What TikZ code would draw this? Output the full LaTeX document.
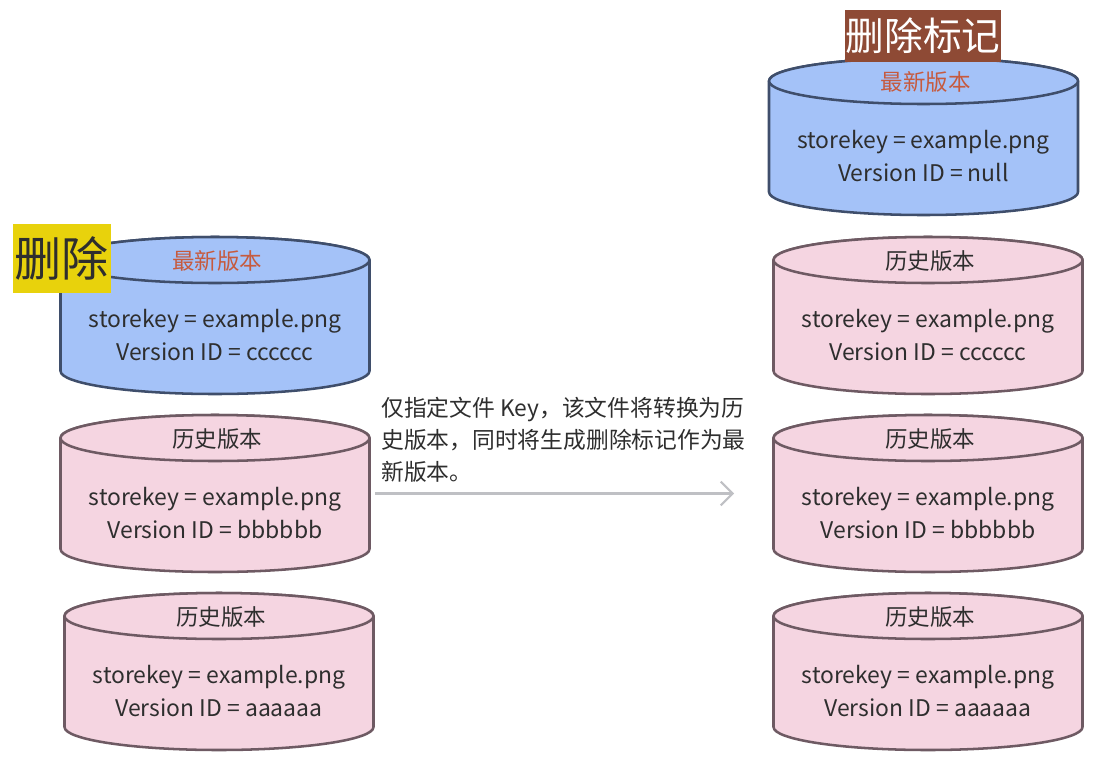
\documentclass[tikz,border=0pt]{standalone}
\usepackage{fontspec}
\setmainfont{Noto Sans CJK SC}
\usetikzlibrary{arrows.meta}

\definecolor{drumblue}{HTML}{A4C2F8}
\definecolor{edgeblue}{HTML}{3F4E6B}
\definecolor{drumpink}{HTML}{F5D5E1}
\definecolor{edgepink}{HTML}{6E5A63}
\definecolor{tagred}{HTML}{C65A3E}
\definecolor{inkgray}{HTML}{2E2E2E}
\definecolor{markbrown}{HTML}{8E4A35}
\definecolor{markyellow}{HTML}{E8D20C}
\definecolor{flowgray}{HTML}{BFC0C4}

% drum: name, centre x, top ellipse centre y (downwards), style, tag style, tag, version id
\newcommand{\drum}[7]{%
  \path[#4] (#2-154.5,-#3) -- (#2-154.5,-#3-111)
    arc[start angle=180,end angle=360,x radius=154.5,y radius=23]
    -- (#2+154.5,-#3)
    arc[start angle=0,end angle=180,x radius=154.5,y radius=23] -- cycle;
  \path[#4] (#2,-#3) ellipse[x radius=154.5,y radius=23];
  \node[drumbody] (#1) at (#2,-#3-55.5) {};
  \node[#5] (#1tag) at (#2+2,-#3-1) {#6};
  \node[idtext] (#1txt) at (#2,-#3-75) {storekey = example.png\\Version ID = #7};
}

\begin{document}
\begin{tikzpicture}[x=0.025cm,y=0.025cm,line join=round,
    drumbody/.style={minimum width=7.725cm,minimum height=2.775cm,inner sep=0},
    newest/.style={fill=drumblue,draw=edgeblue,line width=1.8pt},
    older/.style={fill=drumpink,draw=edgepink,line width=1.8pt},
    newtag/.style={text=tagred,inner sep=0,font=\fontsize{16}{20}\selectfont},
    oldtag/.style={text=inkgray,inner sep=0,font=\fontsize{16}{20}\selectfont},
    idtext/.style={text=inkgray,inner sep=0,align=center,font=\fontsize{16.3}{22.9}\selectfont},
    flow/.style={flowgray,line width=1.5pt,-{Straight Barb[length=8.5pt,width=17pt,line width=1.5pt]}}]
  \useasboundingbox (0,0) rectangle (1100,-758);

  % before
  \drum{curL}{215}{260}{newest}{newtag}{最新版本}{cccccc}
  \drum{histBL}{215}{438}{older}{oldtag}{历史版本}{bbbbbb}
  \drum{histAL}{219}{616}{older}{oldtag}{历史版本}{aaaaaa}
  \node[fill=markyellow,text=inkgray,minimum width=2.45cm,minimum height=1.725cm,inner sep=0,
    font=\fontsize{33.5}{36}\selectfont] (delL) at (62,-258.5) {删除};

  % after
  \drum{markR}{923.5}{81}{newest}{newtag}{最新版本}{null}
  \drum{histCR}{928}{260}{older}{oldtag}{历史版本}{cccccc}
  \drum{histBR}{928}{438}{older}{oldtag}{历史版本}{bbbbbb}
  \drum{histAR}{928}{616}{older}{oldtag}{历史版本}{aaaaaa}
  \node[fill=markbrown,text=white,minimum width=3.9cm,minimum height=1.3cm,inner sep=0,
    font=\fontsize{27.5}{30}\selectfont] (delR) at (923,-36) {删除标记};

  % step
  \draw[flow,shorten <=5*0.025cm,shorten >=39*0.025cm] (histBL.east) -- (histBR.west);
  \node[anchor=west,align=left,inner sep=0,text=inkgray,font=\fontsize{16.2}{22.7}\selectfont] (note) at (381,-440)
    {仅指定文件 Key，该文件将转换为历\\史版本，同时将生成删除标记作为最\\新版本。};
\end{tikzpicture}
\end{document}
